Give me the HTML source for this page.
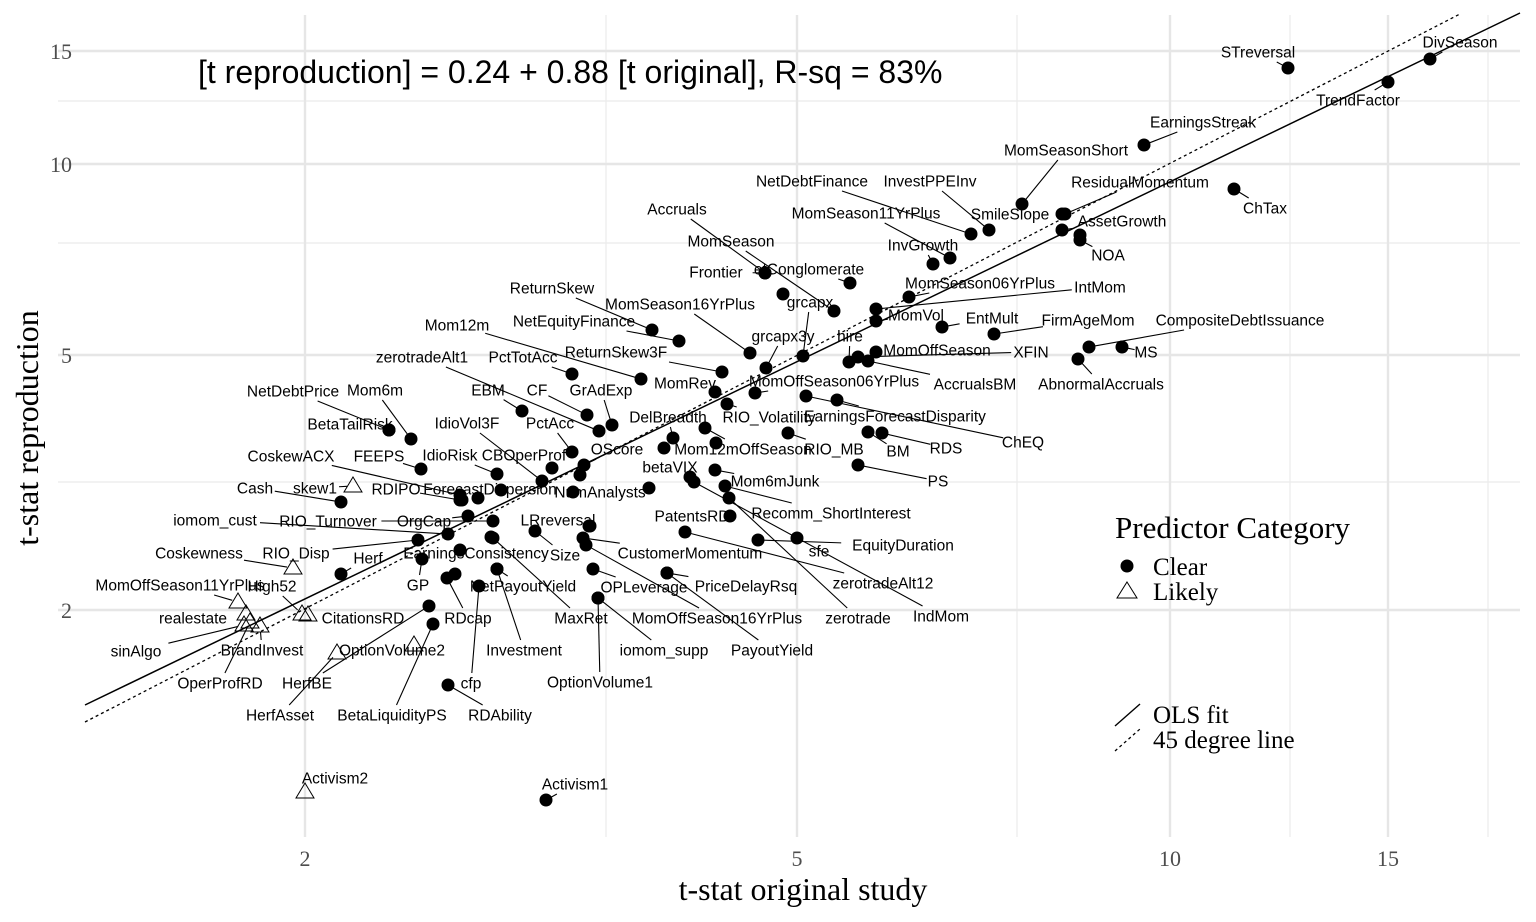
<!DOCTYPE html>
<html><head><meta charset="utf-8"><style>
html,body{margin:0;padding:0;background:#fff}
svg{display:block}
.l{font-family:"Liberation Sans",Arial,sans-serif;font-size:15.5px;fill:#000}
.s{font-family:"Liberation Serif",serif}
</style></head><body>
<svg id="g" width="1536" height="922" xmlns="http://www.w3.org/2000/svg">
<g stroke="#ebebeb" stroke-width="1.2">
<line x1="58" x2="1520" y1="101" y2="101"/><line x1="58" x2="1520" y1="243" y2="243"/><line x1="58" x2="1520" y1="482" y2="482"/>
<line x1="606" x2="606" y1="15" y2="837"/><line x1="1017" x2="1017" y1="15" y2="837"/><line x1="1290" x2="1290" y1="15" y2="837"/><line x1="1488" x2="1488" y1="15" y2="837"/>
</g>
<g stroke="#e6e6e6" stroke-width="2.4">
<line x1="58" x2="1520" y1="51" y2="51"/><line x1="58" x2="1520" y1="164" y2="164"/><line x1="58" x2="1520" y1="355" y2="355"/><line x1="58" x2="1520" y1="610" y2="610"/>
<line x1="305" x2="305" y1="15" y2="837"/><line x1="797" x2="797" y1="15" y2="837"/><line x1="1170" x2="1170" y1="15" y2="837"/><line x1="1388" x2="1388" y1="15" y2="837"/>
</g>
<line x1="85" y1="705" x2="1520" y2="13" stroke="#000" stroke-width="1.5"/>
<line x1="85" y1="722" x2="1460" y2="14" stroke="#000" stroke-width="1.3" stroke-dasharray="3,3"/>
<g id="lines" stroke="#000" stroke-width="1.1"></g>
<g id="pts"></g>
<g id="labs"></g>
<text x="198" y="83" font-family="Liberation Sans,Arial,sans-serif" font-size="32">[t reproduction] = 0.24 + 0.88 [t original], R-sq = 83%</text>
<g class="s" font-size="22" fill="#4d4d4d">
<text x="72" y="59" text-anchor="end">15</text><text x="72" y="172" text-anchor="end">10</text><text x="72" y="363" text-anchor="end">5</text><text x="72" y="618" text-anchor="end">2</text>
<text x="305" y="866" text-anchor="middle">2</text><text x="797" y="866" text-anchor="middle">5</text><text x="1170" y="866" text-anchor="middle">10</text><text x="1388" y="866" text-anchor="middle">15</text>
</g>
<text class="s" x="803" y="900" font-size="32" text-anchor="middle">t-stat original study</text>
<text class="s" transform="translate(38,428) rotate(-90)" font-size="32" text-anchor="middle">t-stat reproduction</text>
<text class="s" x="1115" y="538" font-size="31">Predictor Category</text>
<circle cx="1127" cy="566" r="6.5"/><text class="s" x="1153" y="575" font-size="25">Clear</text>
<polygon points="1127,582 1137,598 1117,598" fill="none" stroke="#000" stroke-width="1"/><text class="s" x="1153" y="600" font-size="25">Likely</text>
<line x1="1115" y1="726" x2="1140" y2="704" stroke="#000" stroke-width="1.4"/><text class="s" x="1153" y="723" font-size="25">OLS fit</text>
<line x1="1115" y1="751" x2="1140" y2="729" stroke="#000" stroke-width="1.3" stroke-dasharray="3,3"/><text class="s" x="1153" y="748" font-size="25">45 degree line</text>
</svg>
<script>
var D=[
["STreversal",1258,52,1288,68],["DivSeason",1460,42,1430,59],["TrendFactor",1358,100,1388,82],["EarningsStreak",1203,122,1144,145],
["MomSeasonShort",1066,150,1022,204],["ChTax",1265,208,1234,189],["ResidualMomentum",1140,182,1065,214],["AssetGrowth",1122,221,1062,230],
["NOA",1108,255,1080,240],["",0,0,1080,235],["NetDebtFinance",812,181,971,234],["InvestPPEInv",930,181,989,230],["SmileSlope",1010,214,1062,214],
["MomSeason11YrPlus",866,213,950,258],["InvGrowth",923,245,933,264],["MomSeason06YrPlus",980,283,909,297],["IntMom",1100,287,876,309],
["MomVol",916,315,876,321],["EntMult",992,318,942,327],["FirmAgeMom",1088,320,994,334],["CompositeDebtIssuance",1240,320,1089,347],
["MS",1146,352,1122,347],["XFIN",1031,352,858,357],["AbnormalAccruals",1101,384,1078,359],["MomOffSeason",937,350,876,352],["AccrualsBM",975,384,868,361],
["Accruals",677,209,765,273],["MomSeason",731,241,834,311],["Frontier",716,272,765,273],["etConglomerate",809,269,850,283],["",0,0,783,294],
["ReturnSkew",552,288,652,330],["MomSeason16YrPlus",680,304,750,353],["grcapx",810,302,803,356],["grcapx3y",783,336,766,368],["hire",850,336,849,362],
["NetEquityFinance",574,321,679,341],["Mom12m",457,325,641,379],["ReturnSkew3F",616,352,722,372],["PctTotAcc",523,357,572,374],["MomRev",685,383,715,392],
["MomOffSeason06YrPlus",834,381,755,393],["EarningsForecastDisparity",895,416,837,400],["ChEQ",1023,442,806,396],["RIO_Volatility",769,417,727,404],
["RIO_MB",834,449,788,433],["BM",898,451,868,432],["RDS",946,448,882,433],["PS",938,481,858,465],["zerotradeAlt1",422,357,599,431],
["EBM",488,390,522,411],["CF",537,390,587,415],["GrAdExp",601,390,612,425],["NetDebtPrice",293,391,389,430],["Mom6m",375,390,411,439],
["BetaTailRisk",350,424,389,430],["DelBreadth",668,417,673,438],["PctAcc",550,423,572,452],["IdioVol3F",467,423,542,481],["Mom12mOffSeason",743,449,705,428],
["OScore",617,449,584,465],["CBOperProf",524,455,552,468],["IdioRisk",450,455,497,474],["FEEPS",379,456,421,469],["CoskewACX",291,456,460,495],
["betaVIX",670,467,690,477],["Mom6mJunk",775,481,715,470],["NumAnalysts",600,492,573,492],["",0,0,664,448],["",0,0,649,488],["",0,0,580,475],
["ForecastDispersion",490,489,478,498],["",0,0,501,490],["",0,0,462,500],["RDIPO",396,489,460,500],["Cash",255,488,341,502],
["iomom_cust",215,520,448,534],["RIO_Turnover",328,521,493,521],["OrgCap",424,521,468,516],["LRreversal",558,520,590,526],
["Recomm_ShortInterest",831,513,725,486],["PatentsRD",692,516,730,516],["EquityDuration",903,545,758,540],["sfe",819,551,797,538],
["zerotradeAlt12",883,583,685,532],["CustomerMomentum",690,553,583,538],["Size",565,555,535,531],["EarningsConsistency",476,553,460,550],
["RIO_Disp",296,553,418,540],["Herf",368,558,341,574],["GP",418,585,422,559],["NetPayoutYield",523,586,497,569],
["OPLeverage",644,587,593,569],["PriceDelayRsq",746,586,667,573],["MaxRet",581,618,493,538],["MomOffSeason16YrPlus",717,618,586,545],
["zerotrade",858,618,729,498],["IndMom",941,616,694,482],["RDcap",468,618,447,578],["",0,0,455,574],["iomom_supp",664,650,598,598],["PayoutYield",772,650,667,573],
["Investment",524,650,497,569],["OptionVolume1",600,682,598,598],["HerfBE",307,683,429,606],["cfp",471,683,479,586],["RDAbility",500,715,448,685],
["BetaLiquidityPS",392,715,433,624],["Activism1",575,784,546,800],["",0,0,491,537],["",0,0,589,526],["",0,0,716,443]
];
var T=[["skew1",315,488,353,486],["Coskewness",199,553,293,568],["CitationsRD",363,618,308,615],["High52",272,586,302,614],
["MomOffSeason11YrPlus",180,585,238,602],["realestate",193,618,246,614],["sinAlgo",136,651,244,625],["BrandInvest",262,650,260,626],
["OperProfRD",220,683,250,622],["OptionVolume2",392,650,414,645],["HerfAsset",280,715,337,653],["Activism2",335,778,305,792]];
var NS="http://www.w3.org/2000/svg";
function el(n,a,p){var e=document.createElementNS(NS,n);for(var k in a)e.setAttribute(k,a[k]);document.getElementById(p).appendChild(e);return e;}
function add(d,tri){
 var lab=d[0],lx=d[1],ly=d[2],px=d[3],py=d[4];
 if(tri) el("polygon",{points:(px)+","+(py-9)+" "+(px+9)+","+(py+6)+" "+(px-9)+","+(py+6),fill:"none",stroke:"#000","stroke-width":"1"},"pts");
 else el("circle",{cx:px,cy:py,r:6.5},"pts");
 if(!lab)return;
 var t=el("text",{x:lx,y:ly+5.5,"text-anchor":"middle","class":"l"},"labs");t.textContent=lab;
 var w=lab.length*8.4/2+3,h=10;
 var dx=px-lx,dy=py-ly;
 if(Math.abs(dx)<=w&&Math.abs(dy)<=h)return;
 var s=Math.min(dx?w/Math.abs(dx):1e9,dy?h/Math.abs(dy):1e9);
 var sx=lx+dx*s,sy=ly+dy*s;
 var len=Math.hypot(px-sx,py-sy);if(len<10)return;
 var ex=px-(px-sx)/len*6,ey=py-(py-sy)/len*6;
 el("line",{x1:sx,y1:sy,x2:ex,y2:ey},"lines");
}
D.forEach(function(d){add(d,false)});T.forEach(function(d){add(d,true)});
</script>
</body></html>
